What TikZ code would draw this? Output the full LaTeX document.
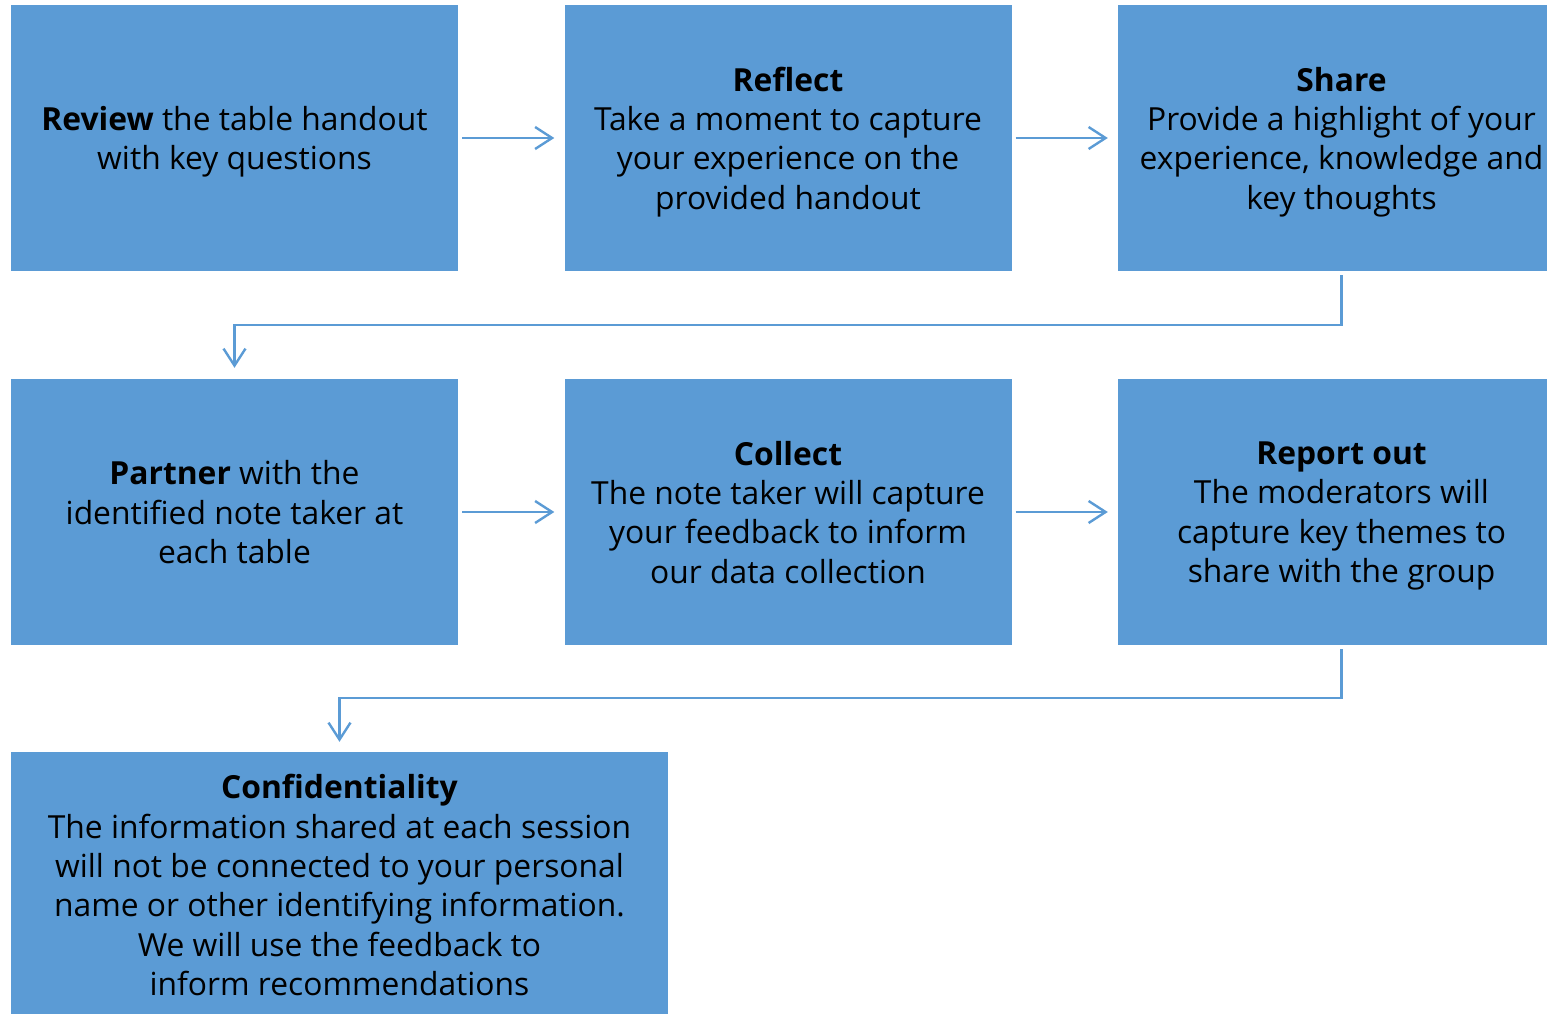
\documentclass[tikz,border=0pt]{standalone}
\usepackage{fontspec}
\setmainfont{Open Sans}
\usetikzlibrary{arrows.meta}
\definecolor{boxblue}{HTML}{5B9BD5}
\tikzset{
  stepbox/.style={rectangle, fill=boxblue, draw=none, inner sep=0pt,
    minimum width=447pt, minimum height=266pt, align=center, text depth=0pt,
    font=\fontsize{31.8}{39.3}\selectfont, text=black},
  arr/.style={draw=boxblue, line width=2.4pt,
    -{Straight Barb[length=17pt,width=22pt,line width=2.4pt]}, shorten <=4pt, shorten >=10pt}
}
\begin{document}
\begin{tikzpicture}[x=1pt,y=-1pt]
\useasboundingbox (0,0) rectangle (1547,1014);
\clip (0,0) rectangle (1547,1014);
\node[stepbox] (b1) at (234.5,138) {\textbf{Review} the table handout\\with key questions};
\node[stepbox] (b2) at (788,138) {\textbf{Reflect}\\Take a moment to capture\\your experience on the\\provided handout};
\node[stepbox] (b3) at (1341.5,138) {\textbf{Share}\\Provide a highlight of your\\experience, knowledge and\\key thoughts};
\node[stepbox] (b4) at (234.5,512) {\textbf{Partner} with the\\identified note taker at\\each table};
\node[stepbox] (b5) at (788,512) {\textbf{Collect}\\The note taker will capture\\your feedback to inform\\our data collection};
\node[stepbox] (b6) at (1341.5,512) {\textbf{Report out}\\The moderators will\\capture key themes to\\share with the group};
\node[stepbox, minimum width=657pt] (b7) at (339.5,885) {\textbf{Confidentiality}\\The information shared at each session\\will not be connected to your personal\\name or other identifying information.\\We will use the feedback to\\inform recommendations};
\coordinate (m1) at (1341.5,325);
\coordinate (m2) at (1341.5,698);
\draw[arr] (b1.east) -- (b2.west);
\draw[arr] (b2.east) -- (b3.west);
\draw[arr] (b4.east) -- (b5.west);
\draw[arr] (b5.east) -- (b6.west);
\draw[arr, shorten >=11pt] (b3.south) -- (m1) -| (b4.north);
\draw[arr] (b6.south) -- (m2) -| (b7.north);
\end{tikzpicture}
\end{document}
